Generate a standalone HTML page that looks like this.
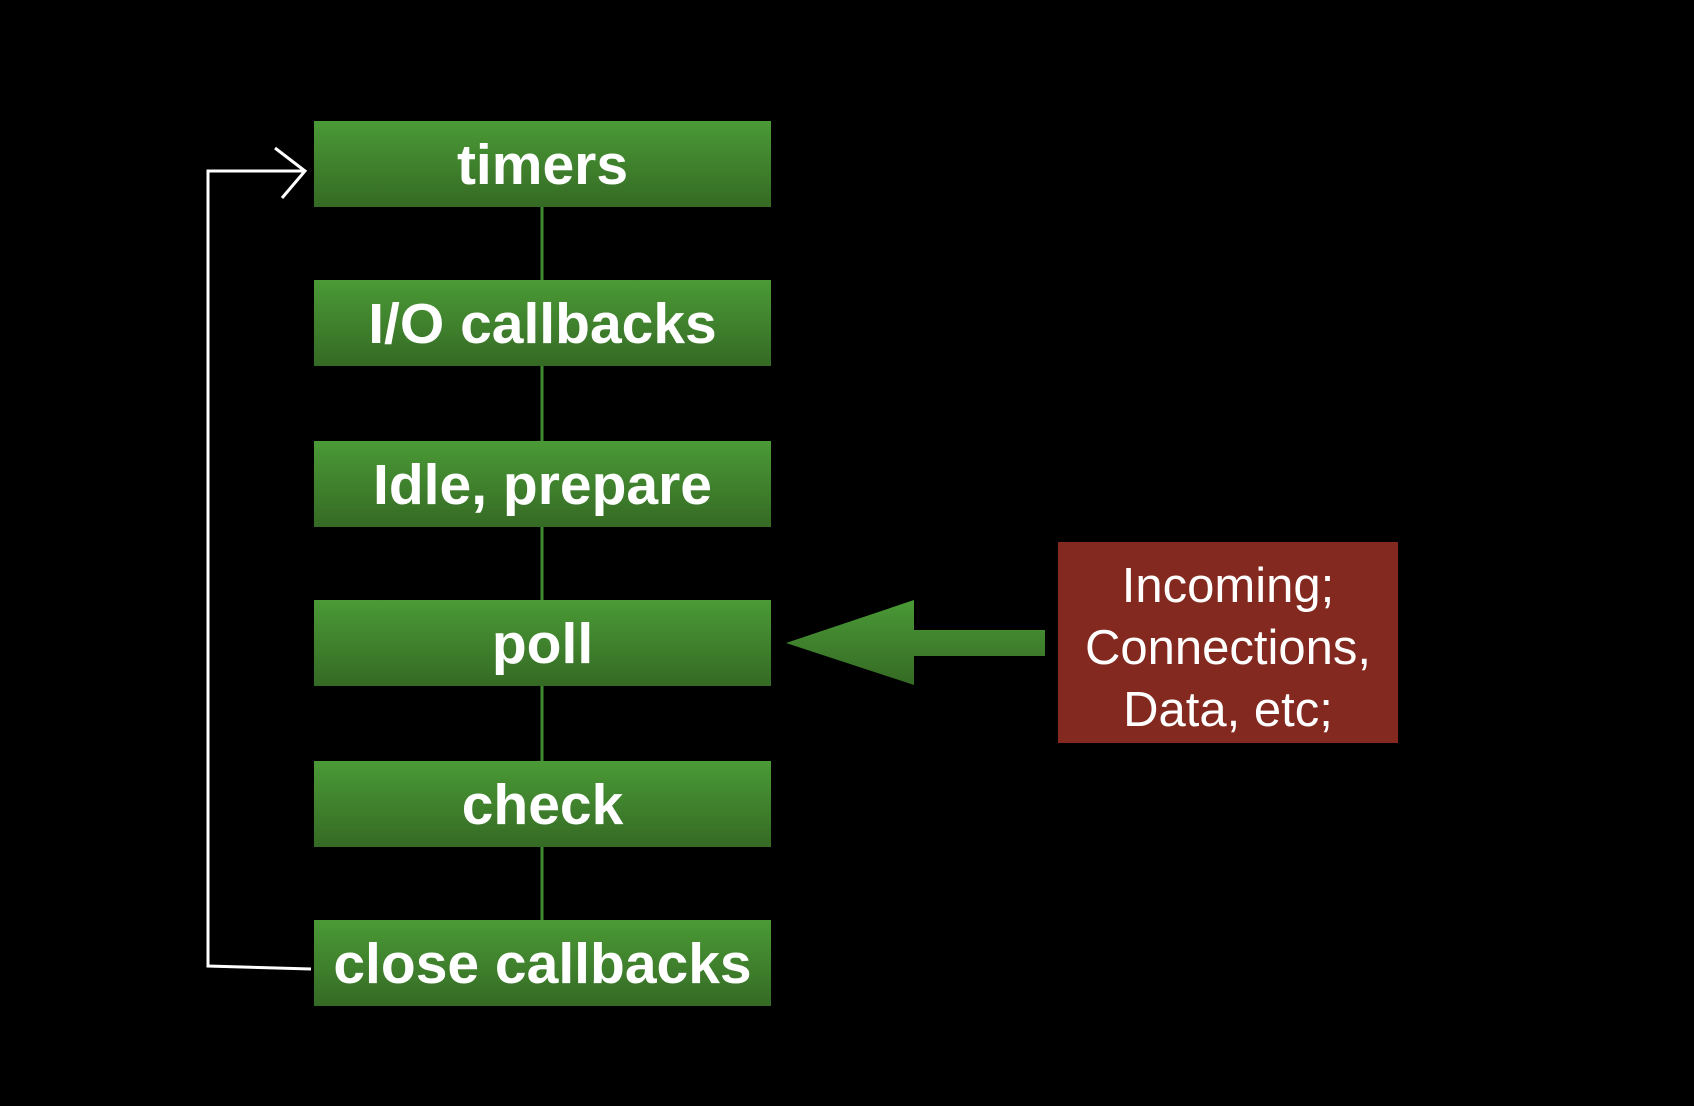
<!DOCTYPE html>
<html><head><meta charset="utf-8"><style>
html,body{margin:0;padding:0;background:#000;}
body{width:1694px;height:1106px;position:relative;overflow:hidden;font-family:"Liberation Sans",sans-serif;}
.b{position:absolute;left:314px;width:457px;height:86px;background:linear-gradient(#4a9a36,#356a24);color:#fff;font-weight:bold;font-size:57px;text-align:center;line-height:88px;}
.r{position:absolute;left:1058px;top:542px;width:340px;height:201px;background:#83291f;color:#fff;font-size:49px;text-align:center;line-height:62px;padding-top:13px;box-sizing:border-box;}
svg{position:absolute;left:0;top:0;}
</style></head><body>
<svg width="1694" height="1106">
<line x1="542" y1="206" x2="542" y2="920" stroke="#3f8a2e" stroke-width="3"/>
<polyline points="311,969 208,966 208,171 305,171" fill="none" stroke="#fff" stroke-width="3"/>
<polyline points="275,148 305,171 282,198" fill="none" stroke="#fff" stroke-width="3"/>
<defs><linearGradient id="g" x1="0" y1="0" x2="0" y2="1"><stop offset="0" stop-color="#4a9a36"/><stop offset="1" stop-color="#356a24"/></linearGradient></defs>
<polygon points="786,643 914,600 914,630 1045,630 1045,656 914,656 914,685" fill="url(#g)"/>
</svg>
<div class="b" style="top:121px">timers</div>
<div class="b" style="top:280px">I/O callbacks</div>
<div class="b" style="top:441px">Idle, prepare</div>
<div class="b" style="top:600px">poll</div>
<div class="b" style="top:761px">check</div>
<div class="b" style="top:920px">close callbacks</div>
<div class="r">Incoming;<br>Connections,<br>Data, etc;</div>
</body></html>
